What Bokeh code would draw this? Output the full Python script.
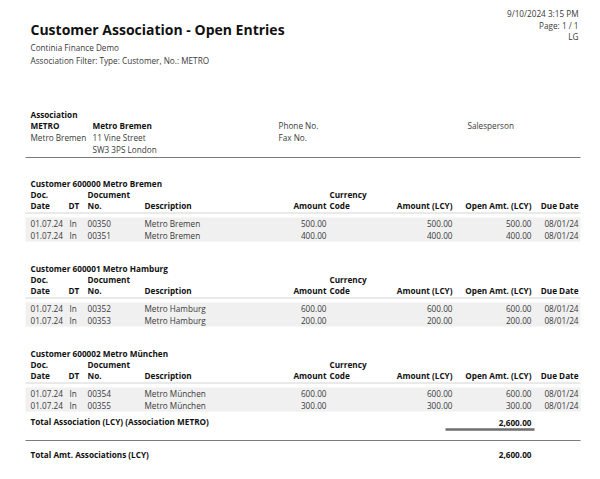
from bokeh.plotting import figure
from bokeh.models import Range1d, ColumnDataSource
from bokeh.core.properties import value
from bokeh.embed import file_html
from bokeh.resources import INLINE

# ---------------- data ----------------
report_title = "Customer Association - Open Entries"
company = "Continia Finance Demo"
filter_text = "Association Filter: Type: Customer, No.: METRO"
print_info = ["9/10/2024 3:15 PM", "Page: 1 / 1", "LG"]

assoc_code = "METRO"
assoc_name = "Metro Bremen"
assoc_contact = "Metro Bremen"
assoc_address = ["11 Vine Street", "SW3 3PS London"]

customer_nos = ["600000", "600001", "600002"]
customer_names = ["Metro Bremen", "Metro Hamburg", "Metro München"]

doc_dates = [["01.07.24", "01.07.24"], ["01.07.24", "01.07.24"], ["01.07.24", "01.07.24"]]
doc_types = [["In", "In"], ["In", "In"], ["In", "In"]]
doc_nos = [["00350", "00351"], ["00352", "00353"], ["00354", "00355"]]
descriptions = [["Metro Bremen", "Metro Bremen"], ["Metro Hamburg", "Metro Hamburg"],
                ["Metro München", "Metro München"]]
amounts = [[500.00, 400.00], [600.00, 200.00], [600.00, 300.00]]
amounts_lcy = [[500.00, 400.00], [600.00, 200.00], [600.00, 300.00]]
open_amts = [[500.00, 400.00], [600.00, 200.00], [600.00, 300.00]]
due_dates = [["08/01/24", "08/01/24"], ["08/01/24", "08/01/24"], ["08/01/24", "08/01/24"]]

# ---------------- styling ----------------
FONT = "Open Sans"
BODY_PX = "8.2px"
DARK = "#111111"
GREY = "#3a3a3a"

p = figure(width=584, height=463, x_range=Range1d(0, 584), y_range=Range1d(463, 0),
           output_backend="svg", toolbar_location=None, min_border=0)
p.axis.visible = False
p.grid.visible = False
p.outline_line_color = None
p.background_fill_color = "white"
p.border_fill_color = "white"


def txt(xs, ys, texts, size=BODY_PX, bold=False, align="left", color=GREY):
    src = ColumnDataSource(dict(x=xs, y=ys, t=texts))
    p.text(x="x", y="y", text="t", source=src, text_font=value(FONT),
           text_font_size=size, text_font_style="bold" if bold else "normal",
           text_align=align, text_baseline="middle", text_color=color)


def fmt(v):
    return f"{v:,.2f}"


# header
txt([30], [29], [report_title], size="14px", bold=True, color=DARK)
txt([30, 30], [47, 60], [company, filter_text])
txt([578, 578, 578], [13, 24.5, 36], print_info, align="right")

# association block
txt([30, 30], [114, 125], ["Association", assoc_code], bold=True, color=DARK)
txt([92], [125], [assoc_name], bold=True, color=DARK)
txt([30, 92, 92], [137, 137, 149], [assoc_contact] + assoc_address)
txt([278, 278, 467], [125, 137, 125], ["Phone No.", "Fax No.", "Salesperson"])
p.segment(x0=[25], y0=[157], x1=[580], y1=[157], line_color="#7a7a7a", line_width=1.2)

# customer sections
SEC0 = 182.5
SEC_STEP = 85
for i in range(len(customer_nos)):
    top = SEC0 + i * SEC_STEP
    txt([30], [top], [f"Customer {customer_nos[i]} {customer_names[i]}"], bold=True, color=DARK)
    h1 = top + 11.5
    h2 = top + 22.5
    txt([30, 87, 329], [h1, h1, h1], ["Doc.", "Document", "Currency"], bold=True, color=DARK)
    txt([30, 68, 87, 144, 329], [h2] * 5, ["Date", "DT", "No.", "Description", "Code"],
        bold=True, color=DARK)
    txt([326, 452, 531, 578], [h2] * 4, ["Amount", "Amount (LCY)", "Open Amt. (LCY)", "Due Date"],
        bold=True, color=DARK, align="right")
    p.segment(x0=[25], y0=[top + 30], x1=[580], y1=[top + 30], line_color="#d4d4d4", line_width=1)
    n = len(doc_nos[i])
    band_top = top + 34.5
    p.quad(left=[25], right=[580], top=[band_top], bottom=[band_top + 12 * n],
           fill_color="#f0f0f0", line_color=None)
    ys = [band_top + 6 + 11.5 * k for k in range(n)]
    txt([30] * n, ys, doc_dates[i])
    txt([69] * n, ys, doc_types[i])
    txt([87] * n, ys, doc_nos[i])
    txt([144] * n, ys, descriptions[i])
    txt([326] * n, ys, [fmt(v) for v in amounts[i]], align="right")
    txt([452] * n, ys, [fmt(v) for v in amounts_lcy[i]], align="right")
    txt([531] * n, ys, [fmt(v) for v in open_amts[i]], align="right")
    txt([578] * n, ys, due_dates[i], align="right")

total = sum(sum(r) for r in open_amts)
txt([30], [421], ["Total Association (LCY) (Association METRO)"], bold=True, color=DARK)
txt([531], [422], [fmt(total)], bold=True, color=DARK, align="right")
p.segment(x0=[445], y0=[429], x1=[534], y1=[429], line_color="#6e6e6e", line_width=2.5)
p.segment(x0=[25], y0=[440], x1=[580], y1=[440], line_color="#7a7a7a", line_width=1.2)
txt([30], [454], ["Total Amt. Associations (LCY)"], bold=True, color=DARK)
txt([531], [454], [fmt(total)], bold=True, color=DARK, align="right")

open("out.html", "w").write(file_html(p, INLINE))
